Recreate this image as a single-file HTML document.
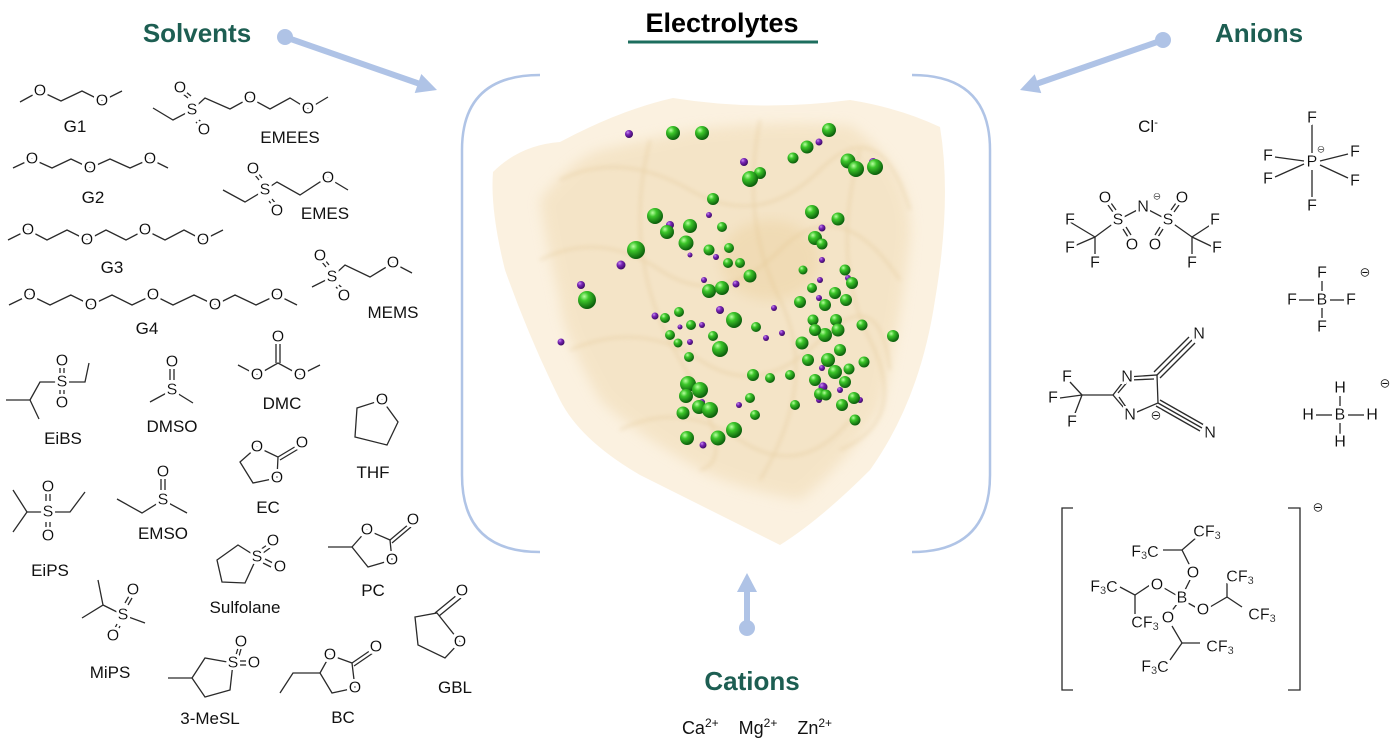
<!DOCTYPE html>
<html><head><meta charset="utf-8">
<style>
html,body{margin:0;padding:0;background:#fff}
svg{display:block}
.a{font:16px "Liberation Sans",sans-serif;fill:#111;text-anchor:middle;dominant-baseline:central;filter:url(#halo)}
.l{font:17px "Liberation Sans",sans-serif;fill:#111;text-anchor:middle}
.t{font:bold 26px "Liberation Sans",sans-serif;fill:#1d5e52;text-anchor:middle}
.b{fill:none;stroke:#2a2a2a;stroke-width:1.3}
.m{font:13px "Liberation Sans",sans-serif;fill:#111;text-anchor:middle;dominant-baseline:central;filter:url(#halo)}
</style></head><body>
<svg width="1399" height="743" viewBox="0 0 1399 743" xmlns="http://www.w3.org/2000/svg">
<defs>
<radialGradient id="g" cx="35%" cy="30%" r="70%"><stop offset="0" stop-color="#b8ffa0"/><stop offset="0.35" stop-color="#3cc62a"/><stop offset="1" stop-color="#0b5e0b"/></radialGradient>
<radialGradient id="p" cx="35%" cy="30%" r="70%"><stop offset="0" stop-color="#c890f0"/><stop offset="0.4" stop-color="#7a25b8"/><stop offset="1" stop-color="#3e0a66"/></radialGradient>
<filter id="bl"><feGaussianBlur stdDeviation="6"/></filter>
<filter id="bl2"><feGaussianBlur stdDeviation="2"/></filter>
<filter id="halo" x="-30%" y="-30%" width="160%" height="160%">
<feMorphology in="SourceAlpha" operator="dilate" radius="2.5" result="d"/>
<feFlood flood-color="#fff" result="w"/>
<feComposite in="w" in2="d" operator="in" result="h"/>
<feMerge><feMergeNode in="h"/><feMergeNode in="SourceGraphic"/></feMerge>
</filter>
</defs>

<text class="t" x="197" y="42">Solvents</text>
<text class="t" x="1259" y="42">Anions</text>
<text class="t" x="752" y="690">Cations</text>
<text x="722" y="32" style="font:bold 27px 'Liberation Sans',sans-serif;fill:#000;text-anchor:middle">Electrolytes</text>
<line x1="628" y1="42" x2="818" y2="42" stroke="#1d6e5e" stroke-width="3"/>

<g fill="#afc3e6" stroke="#afc3e6">
<circle cx="285" cy="37" r="8" stroke="none"/>
<line x1="285" y1="37" x2="420" y2="84" stroke-width="6"/>
<polygon points="437,90 414.7,93 421.3,74" stroke="none"/>
<circle cx="1163" cy="40" r="8" stroke="none"/>
<line x1="1163" y1="40" x2="1036" y2="84" stroke-width="6"/>
<polygon points="1020,90 1041.3,93.1 1034.7,74.3" stroke="none"/>
<circle cx="747" cy="628" r="8" stroke="none"/>
<line x1="747" y1="628" x2="747" y2="590" stroke-width="6"/>
<polygon points="747,573 737,592 757,592" stroke="none"/>
</g>

<path d="M540,75 Q462,75 462,150 L462,475 Q462,552 540,552" fill="none" stroke="#b0c4e6" stroke-width="2.5"/>
<path d="M912,75 Q990,75 990,150 L990,475 Q990,552 912,552" fill="none" stroke="#b0c4e6" stroke-width="2.5"/>

<!-- blob -->
<path d="M673,98 Q760,112 850,100 Q900,108 940,127 Q952,200 935,300 Q920,400 870,470 Q820,520 780,545 Q720,515 640,475 Q580,440 560,400 Q530,340 505,270 Q490,210 493,172 Q520,145 560,142 Q620,110 673,98 Z" fill="#fbf1e0"/>
<path d="M690,130 Q770,120 850,125 Q915,170 910,240 Q900,330 880,410 Q840,470 800,500 Q740,490 700,470 Q630,430 600,400 Q560,330 560,300 Q545,240 540,200 Q570,160 600,150 Z" fill="#f1ddb8" opacity="0.6" filter="url(#bl)"/>
<g fill="none" stroke="#d9b77a" stroke-width="2" opacity="0.35" filter="url(#bl2)">
<path d="M560,180 Q620,150 690,190 T820,170 T910,210"/>
<path d="M540,260 Q600,230 660,270 T780,250 T900,280"/>
<path d="M570,350 Q640,320 700,360 T820,340 T890,370"/>
<path d="M620,430 Q680,400 740,440 T850,420"/>
<path d="M760,120 Q740,220 780,300 T760,480"/>
<path d="M650,140 Q620,260 680,360 T700,470"/>
<path d="M860,150 Q830,260 870,340 T840,450"/>
</g>
<ellipse cx="770" cy="260" rx="50" ry="40" fill="#e8c88c" opacity="0.3" filter="url(#bl)"/>

<g fill="url(#p)">
<circle cx="629" cy="134" r="4"/><circle cx="819" cy="142" r="3.5"/><circle cx="744" cy="162" r="4"/><circle cx="873" cy="162" r="4"/>
<circle cx="709" cy="215" r="3"/><circle cx="670" cy="225" r="4"/><circle cx="822" cy="228" r="3.5"/><circle cx="822" cy="260" r="3"/>
<circle cx="621" cy="265" r="4.5"/><circle cx="581" cy="285" r="4"/><circle cx="561" cy="342" r="3.5"/><circle cx="716" cy="257" r="3"/>
<circle cx="704" cy="280" r="3"/><circle cx="736" cy="284" r="3.5"/><circle cx="720" cy="310" r="4"/><circle cx="655" cy="316" r="3.5"/>
<circle cx="702" cy="325" r="3"/><circle cx="690" cy="342" r="3"/><circle cx="766" cy="338" r="3"/><circle cx="690" cy="384" r="4"/>
<circle cx="739" cy="405" r="3"/><circle cx="702" cy="402" r="3"/><circle cx="820" cy="280" r="3"/><circle cx="848" cy="278" r="3"/>
<circle cx="827" cy="335" r="3"/><circle cx="819" cy="298" r="3"/><circle cx="840" cy="390" r="3"/><circle cx="822" cy="368" r="3"/>
<circle cx="823" cy="387" r="4.5"/><circle cx="819" cy="400" r="3"/><circle cx="860" cy="400" r="3"/><circle cx="782" cy="333" r="3"/>
<circle cx="774" cy="308" r="3"/><circle cx="703" cy="445" r="3.5"/><circle cx="690" cy="255" r="2.5"/><circle cx="680" cy="327" r="2.5"/>
</g>
<g fill="url(#g)">
<circle cx="673" cy="133" r="7"/><circle cx="702" cy="133" r="7"/><circle cx="829" cy="130" r="7"/><circle cx="807" cy="147" r="6.5"/>
<circle cx="793" cy="158" r="5.5"/><circle cx="848" cy="161" r="7.5"/><circle cx="856" cy="169" r="8"/><circle cx="875" cy="167" r="8"/>
<circle cx="760" cy="173" r="6"/><circle cx="750" cy="179" r="8"/><circle cx="713" cy="199" r="6"/>
<circle cx="655" cy="216" r="8"/><circle cx="667" cy="232" r="7"/><circle cx="690" cy="226" r="7"/><circle cx="686" cy="243" r="7.5"/>
<circle cx="722" cy="227" r="5"/><circle cx="636" cy="250" r="9"/><circle cx="812" cy="212" r="7"/><circle cx="838" cy="219" r="6.5"/>
<circle cx="815" cy="238" r="7"/><circle cx="822" cy="244" r="5.5"/><circle cx="709" cy="250" r="5.5"/><circle cx="729" cy="248" r="5"/>
<circle cx="728" cy="263" r="5"/><circle cx="740" cy="263" r="5"/><circle cx="750" cy="276" r="6.5"/><circle cx="587" cy="300" r="9"/>
<circle cx="709" cy="291" r="7"/><circle cx="722" cy="288" r="7"/><circle cx="679" cy="312" r="5"/><circle cx="665" cy="318" r="5"/>
<circle cx="678" cy="343" r="4.5"/><circle cx="734" cy="320" r="8"/><circle cx="691" cy="325" r="5"/><circle cx="670" cy="335" r="5"/>
<circle cx="713" cy="336" r="5"/><circle cx="720" cy="349" r="8"/><circle cx="756" cy="327" r="5"/><circle cx="753" cy="375" r="6"/>
<circle cx="688" cy="384" r="8"/><circle cx="700" cy="390" r="8"/><circle cx="686" cy="396" r="7"/><circle cx="699" cy="407" r="7"/>
<circle cx="710" cy="410" r="8"/><circle cx="687" cy="438" r="7"/><circle cx="734" cy="430" r="8"/><circle cx="750" cy="398" r="5"/>
<circle cx="755" cy="415" r="5"/><circle cx="683" cy="413" r="6.5"/><circle cx="718" cy="438" r="7.5"/><circle cx="689" cy="357" r="5"/>
<circle cx="813" cy="320" r="5.5"/><circle cx="800" cy="302" r="6"/><circle cx="825" cy="305" r="6"/><circle cx="835" cy="293" r="6"/>
<circle cx="845" cy="270" r="5.5"/><circle cx="852" cy="283" r="6"/><circle cx="836" cy="320" r="6"/><circle cx="825" cy="335" r="7"/>
<circle cx="846" cy="300" r="6"/><circle cx="838" cy="330" r="6.5"/><circle cx="802" cy="343" r="6.5"/><circle cx="815" cy="330" r="6"/>
<circle cx="840" cy="350" r="6"/><circle cx="828" cy="360" r="7"/><circle cx="835" cy="372" r="7"/><circle cx="808" cy="360" r="6"/>
<circle cx="815" cy="380" r="6"/><circle cx="845" cy="382" r="6"/><circle cx="849" cy="369" r="5.5"/><circle cx="842" cy="405" r="6"/>
<circle cx="854" cy="398" r="6"/><circle cx="855" cy="420" r="5.5"/><circle cx="862" cy="325" r="5.5"/><circle cx="893" cy="336" r="6"/>
<circle cx="864" cy="362" r="5.5"/><circle cx="820" cy="394" r="6"/><circle cx="812" cy="288" r="5"/><circle cx="826" cy="395" r="5.5"/>
<circle cx="790" cy="375" r="5"/><circle cx="795" cy="405" r="5"/><circle cx="770" cy="378" r="5"/><circle cx="803" cy="270" r="4.5"/>
</g>

<!-- ===== SOLVENTS ===== -->
<g class="b">
<polyline points="20,102 40,91 61,101 82,91 102,101 122,91"/>
<polyline points="153,108 173,120 192,110 205,98 230,109 250,98 270,109 290,98 308,109 328,97"/>
<line x1="188" y1="98" x2="183" y2="94"/><line x1="191" y1="96" x2="186" y2="92"/>
<line x1="196" y1="122" x2="200" y2="126"/><line x1="199" y1="120" x2="203" y2="124"/>
<polyline points="13,168 32,159 52,168 71,159 90,168 110,159 130,168 150,159 168,168"/>
<polyline points="223,190 245,202 265,190 277,182 300,195 320,182 328,178 348,190"/>
<line x1="259" y1="180" x2="255" y2="175"/><line x1="262" y1="178" x2="258" y2="173"/>
<line x1="269" y1="201" x2="273" y2="206"/><line x1="272" y1="199" x2="276" y2="204"/>
<polyline points="8,240 28,230 47,240 67,230 87,240 106,230 126,240 145,230 165,240 184,230 203,240 223,230"/>
<polyline points="312,287 332,277 345,265 370,277 393,263 412,273"/>
<line x1="326" y1="267" x2="322" y2="262"/><line x1="329" y1="265" x2="325" y2="260"/>
<line x1="336" y1="287" x2="340" y2="291"/><line x1="339" y1="285" x2="343" y2="289"/>
<polyline points="9,305 29.6,295 50,305 70.8,295 91,305 112,295 132,305 153,295 173,305 194,295 215,305 235,295 256,305 277,295 297,305"/>
<polyline points="6,400 30,400 39,419"/><polyline points="30,400 40,382 62,382 85,382 89,363"/>
<line x1="60" y1="368" x2="60" y2="375"/><line x1="64" y1="368" x2="64" y2="375"/>
<line x1="60" y1="390" x2="60" y2="397"/><line x1="64" y1="390" x2="64" y2="397"/>
<polyline points="150,402 172,390 193,403"/>
<line x1="170" y1="369" x2="170" y2="380"/><line x1="174" y1="369" x2="174" y2="380"/>
<polyline points="238,365 257,375 278,363 300,375 320,365"/>
<line x1="276" y1="344" x2="276" y2="363"/><line x1="280" y1="344" x2="280" y2="363"/>
<polygon points="382,400 398,422 387,445 355,437 357,408"/>
<polygon points="257,447 278,457 277,478 253,483 240,462"/>
<line x1="278" y1="457" x2="298" y2="445"/><line x1="280" y1="460" x2="300" y2="448"/>
<polyline points="13,490 27,512 13,532"/><polyline points="27,512 48,512 70,512 85,492"/>
<line x1="46" y1="493" x2="46" y2="501"/><line x1="50" y1="493" x2="50" y2="501"/>
<line x1="46" y1="522" x2="46" y2="529"/><line x1="50" y1="522" x2="50" y2="529"/>
<polyline points="117,499 142,513 163,500 187,513"/>
<line x1="161" y1="479" x2="161" y2="490"/><line x1="165" y1="479" x2="165" y2="490"/>
<polygon points="257,557 238,545 217,560 222,582 245,583"/>
<line x1="260" y1="550" x2="267" y2="545"/><line x1="263" y1="553" x2="270" y2="548"/>
<line x1="265" y1="559" x2="273" y2="563"/><line x1="263" y1="563" x2="271" y2="567"/>
<polygon points="367,530 390,540 392,560 368,567 352,547"/>
<line x1="352" y1="547" x2="328" y2="547"/>
<line x1="390" y1="540" x2="409" y2="524"/><line x1="392" y1="543" x2="411" y2="527"/>
<polyline points="98,580 103,605 82,618"/><polyline points="103,605 123,615 145,623"/>
<line x1="125" y1="603" x2="129" y2="596"/><line x1="128" y1="605" x2="132" y2="598"/>
<line x1="117" y1="624" x2="114" y2="630"/><line x1="120" y1="626" x2="117" y2="632"/>
<polygon points="233,663 205,658 192,678 205,697 230,690"/>
<line x1="192" y1="678" x2="168" y2="678"/>
<line x1="236" y1="655" x2="238" y2="648"/><line x1="239" y1="656" x2="241" y2="649"/>
<line x1="240" y1="661" x2="247" y2="661"/><line x1="240" y1="665" x2="247" y2="665"/>
<polygon points="330,655 352,663 355,688 332,693 320,673"/>
<polyline points="320,673 293,673 280,693"/>
<line x1="352" y1="663" x2="371" y2="650"/><line x1="354" y1="666" x2="373" y2="653"/>
<polygon points="437,613 460,642 445,658 418,645 415,617"/>
<line x1="435" y1="613" x2="457" y2="595"/><line x1="439" y1="616" x2="461" y2="598"/>
</g>
<g>
<text class="a" x="40" y="91">O</text><text class="a" x="102" y="101">O</text>
<text class="a" x="192" y="110">S</text><text class="a" x="180" y="88">O</text><text class="a" x="204" y="130">O</text><text class="a" x="250" y="98">O</text><text class="a" x="308" y="109">O</text>
<text class="a" x="32" y="159">O</text><text class="a" x="90" y="168">O</text><text class="a" x="150" y="159">O</text>
<text class="a" x="265" y="190">S</text><text class="a" x="253" y="169">O</text><text class="a" x="277" y="211">O</text><text class="a" x="328" y="178">O</text>
<text class="a" x="28" y="230">O</text><text class="a" x="87" y="240">O</text><text class="a" x="145" y="230">O</text><text class="a" x="203" y="240">O</text>
<text class="a" x="332" y="277">S</text><text class="a" x="320" y="256">O</text><text class="a" x="344" y="296">O</text><text class="a" x="393" y="263">O</text>
<text class="a" x="29.6" y="295">O</text><text class="a" x="91" y="305">O</text><text class="a" x="153" y="295">O</text><text class="a" x="215" y="305">O</text><text class="a" x="277" y="295">O</text>
<text class="a" x="62" y="382">S</text><text class="a" x="62" y="361">O</text><text class="a" x="62" y="403">O</text>
<text class="a" x="172" y="390">S</text><text class="a" x="172" y="362">O</text>
<text class="a" x="257" y="375">O</text><text class="a" x="300" y="375">O</text><text class="a" x="278" y="337">O</text>
<text class="a" x="382" y="400">O</text>
<text class="a" x="257" y="447">O</text><text class="a" x="277" y="478">O</text><text class="a" x="302" y="443">O</text>
<text class="a" x="48" y="512">S</text><text class="a" x="48" y="487">O</text><text class="a" x="48" y="536">O</text>
<text class="a" x="163" y="500">S</text><text class="a" x="163" y="472">O</text>
<text class="a" x="257" y="557">S</text><text class="a" x="273" y="541">O</text><text class="a" x="280" y="567">O</text>
<text class="a" x="367" y="530">O</text><text class="a" x="392" y="560">O</text><text class="a" x="413" y="520">O</text>
<text class="a" x="123" y="615">S</text><text class="a" x="133" y="590">O</text><text class="a" x="113" y="636">O</text>
<text class="a" x="233" y="663">S</text><text class="a" x="241" y="642">O</text><text class="a" x="254" y="663">O</text>
<text class="a" x="330" y="655">O</text><text class="a" x="355" y="688">O</text><text class="a" x="376" y="647">O</text>
<text class="a" x="460" y="642">O</text><text class="a" x="462" y="591">O</text>
</g>
<g>
<text class="l" x="75" y="132">G1</text><text class="l" x="290" y="143">EMEES</text>
<text class="l" x="93" y="203">G2</text><text class="l" x="325" y="219">EMES</text>
<text class="l" x="112" y="273">G3</text><text class="l" x="393" y="318">MEMS</text>
<text class="l" x="147" y="334">G4</text>
<text class="l" x="63" y="444">EiBS</text><text class="l" x="172" y="432">DMSO</text><text class="l" x="282" y="409">DMC</text>
<text class="l" x="373" y="478">THF</text><text class="l" x="268" y="513">EC</text>
<text class="l" x="50" y="576">EiPS</text><text class="l" x="163" y="539">EMSO</text>
<text class="l" x="245" y="613">Sulfolane</text><text class="l" x="373" y="596">PC</text>
<text class="l" x="110" y="678">MiPS</text><text class="l" x="210" y="724">3-MeSL</text>
<text class="l" x="343" y="723">BC</text><text class="l" x="455" y="693">GBL</text>
</g>

<!-- ===== ANIONS ===== -->
<text x="1148" y="132" style="font:17px 'Liberation Sans',sans-serif;fill:#111;text-anchor:middle">Cl<tspan dy="-6" font-size="11">-</tspan></text>
<g class="b">
<line x1="1312" y1="124" x2="1312" y2="154"/><line x1="1312" y1="170" x2="1312" y2="200"/>
<line x1="1275" y1="157" x2="1304" y2="161"/><line x1="1275" y1="177" x2="1304" y2="164"/>
<line x1="1320" y1="161" x2="1348" y2="154"/><line x1="1320" y1="165" x2="1348" y2="178"/>
<polyline points="1095,237 1118,220 1143,207 1168,220 1192,237"/>
<line x1="1070" y1="222" x2="1095" y2="237"/><line x1="1072" y1="247" x2="1095" y2="237"/><line x1="1095" y1="260" x2="1095" y2="237"/>
<line x1="1215" y1="222" x2="1192" y2="237"/><line x1="1213" y1="247" x2="1192" y2="237"/><line x1="1192" y1="260" x2="1192" y2="237"/>
<line x1="1108" y1="205" x2="1113" y2="212"/><line x1="1111" y1="203" x2="1116" y2="210"/>
<line x1="1123" y1="229" x2="1128" y2="237"/><line x1="1126" y1="227" x2="1131" y2="235"/>
<line x1="1179" y1="205" x2="1174" y2="212"/><line x1="1176" y1="203" x2="1171" y2="210"/>
<line x1="1163" y1="229" x2="1158" y2="237"/><line x1="1160" y1="227" x2="1155" y2="235"/>
<line x1="1322" y1="281" x2="1322" y2="292"/><line x1="1322" y1="308" x2="1322" y2="319"/>
<line x1="1299" y1="300" x2="1314" y2="300"/><line x1="1330" y1="300" x2="1344" y2="300"/>
<line x1="1340" y1="396" x2="1340" y2="407"/><line x1="1340" y1="423" x2="1340" y2="434"/>
<line x1="1316" y1="415" x2="1332" y2="415"/><line x1="1348" y1="415" x2="1364" y2="415"/>
<polygon points="1113,395 1127,377 1157,375 1158,403 1130,415"/>
<line x1="1118" y1="393" x2="1129" y2="380"/><line x1="1119" y1="397" x2="1128" y2="410"/>
<line x1="1130" y1="380" x2="1154" y2="379"/>
<line x1="1113" y1="395" x2="1082" y2="395"/>
<line x1="1082" y1="395" x2="1070" y2="382"/><line x1="1082" y1="395" x2="1060" y2="398"/><line x1="1082" y1="395" x2="1074" y2="416"/>
<line x1="1157" y1="375" x2="1192" y2="340"/><line x1="1160" y1="378" x2="1195" y2="343"/><line x1="1154" y1="372" x2="1189" y2="337"/>
<line x1="1158" y1="403" x2="1202" y2="428"/><line x1="1160" y1="400" x2="1204" y2="425"/><line x1="1156" y1="406" x2="1200" y2="431"/>
<polyline points="1073,508 1062,508 1062,690 1073,690"/>
<polyline points="1288,508 1300,508 1300,690 1288,690"/>
<polyline points="1163,550 1182,550 1197,537"/><line x1="1182" y1="550" x2="1190" y2="566"/>
<line x1="1190" y1="580" x2="1184" y2="592"/><line x1="1164" y1="588" x2="1176" y2="595"/>
<line x1="1150" y1="585" x2="1135" y2="595"/><polyline points="1120,587 1135,595 1135,615"/>
<line x1="1188" y1="603" x2="1197" y2="608"/><polyline points="1210,607 1227,597 1227,583"/><line x1="1227" y1="597" x2="1242" y2="607"/>
<line x1="1177" y1="604" x2="1171" y2="612"/><polyline points="1172,626 1182,643 1200,643"/><line x1="1182" y1="643" x2="1170" y2="660"/>
</g>
<g>
<text class="a" x="1312" y="118">F</text><text class="a" x="1312" y="162">P</text><text class="a" x="1268" y="156">F</text><text class="a" x="1268" y="179">F</text>
<text class="a" x="1355" y="152">F</text><text class="a" x="1355" y="181">F</text><text class="a" x="1312" y="206">F</text>
<text class="m" x="1321" y="150" style="font-size:10px">⊖</text>
<text class="a" x="1143" y="207">N</text><text class="m" x="1157" y="197" style="font-size:10px">⊖</text>
<text class="a" x="1118" y="220">S</text><text class="a" x="1168" y="220">S</text>
<text class="a" x="1105" y="198">O</text><text class="a" x="1132" y="245">O</text><text class="a" x="1182" y="198">O</text><text class="a" x="1155" y="245">O</text>
<text class="a" x="1070" y="220">F</text><text class="a" x="1070" y="248">F</text><text class="a" x="1095" y="263">F</text>
<text class="a" x="1215" y="220">F</text><text class="a" x="1217" y="248">F</text><text class="a" x="1192" y="263">F</text>
<text class="a" x="1322" y="273">F</text><text class="a" x="1292" y="300">F</text><text class="a" x="1322" y="300">B</text><text class="a" x="1351" y="300">F</text><text class="a" x="1322" y="327">F</text>
<text class="m" x="1365" y="272">⊖</text>
<text class="a" x="1340" y="388">H</text><text class="a" x="1308" y="415">H</text><text class="a" x="1340" y="415">B</text><text class="a" x="1372" y="415">H</text><text class="a" x="1340" y="442">H</text>
<text class="m" x="1385" y="383">⊖</text>
<text class="a" x="1127" y="377">N</text><text class="a" x="1130" y="415">N</text><text class="m" x="1156" y="415">⊖</text>
<text class="a" x="1067" y="377">F</text><text class="a" x="1053" y="398">F</text><text class="a" x="1072" y="422">F</text>
<text class="a" x="1199" y="334">N</text><text class="a" x="1210" y="433">N</text>
<text class="m" x="1318" y="507">⊖</text>
<text class="a" x="1207" y="532">CF<tspan dy="4" font-size="11">3</tspan></text>
<text class="a" x="1145" y="552">F<tspan dy="4" font-size="11">3</tspan><tspan dy="-4">C</tspan></text>
<text class="a" x="1193" y="573">O</text>
<text class="a" x="1104" y="587">F<tspan dy="4" font-size="11">3</tspan><tspan dy="-4">C</tspan></text>
<text class="a" x="1157" y="585">O</text><text class="a" x="1182" y="598">B</text>
<text class="a" x="1240" y="577">CF<tspan dy="4" font-size="11">3</tspan></text>
<text class="a" x="1203" y="610">O</text>
<text class="a" x="1262" y="615">CF<tspan dy="4" font-size="11">3</tspan></text>
<text class="a" x="1145" y="623">CF<tspan dy="4" font-size="11">3</tspan></text>
<text class="a" x="1168" y="618">O</text>
<text class="a" x="1220" y="647">CF<tspan dy="4" font-size="11">3</tspan></text>
<text class="a" x="1155" y="667">F<tspan dy="4" font-size="11">3</tspan><tspan dy="-4">C</tspan></text>
</g>

<text x="757" y="734" style="font:18px 'Liberation Sans',sans-serif;fill:#111;text-anchor:middle;white-space:pre" xml:space="preserve">Ca<tspan dy="-7" font-size="12">2+</tspan><tspan dy="7">    Mg</tspan><tspan dy="-7" font-size="12">2+</tspan><tspan dy="7">    Zn</tspan><tspan dy="-7" font-size="12">2+</tspan></text>
</svg>
</body></html>
